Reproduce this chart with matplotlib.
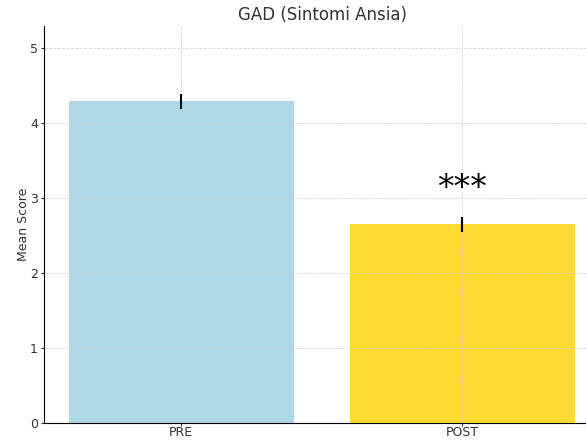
import matplotlib
matplotlib.use("Agg")
import matplotlib.pyplot as plt

categories = ["PRE", "POST"]
means = [4.29, 2.65]
errors = [0.10, 0.10]
colors = ["#ADD8E6", "#FFDA33"]
sig_label = "***"
sig_y = 2.9

fig = plt.figure(figsize=(5.86, 4.4), dpi=100)
ax = fig.add_axes([44/586, 17/440, (600 - 44)/586, (423-26)/440])
x = list(range(len(categories)))
ax.bar(x, means, width=0.8, color=colors, yerr=errors,
       error_kw=dict(ecolor="black", elinewidth=1.5, capsize=0))
ax.set_xticks(x)
ax.set_xticklabels(categories, color="#333333")
ax.set_xlim(-0.4875, 1.49)
ax.set_ylim(0, 5.29)
ax.set_yticks([0, 1, 2, 3, 4, 5])
ax.tick_params(colors="#333333", labelsize=9, length=2.5, pad=2)
ax.tick_params(axis="x", pad=0.5, length=2)
ax.set_ylabel("Mean Score", color="#333333", fontsize=9, labelpad=0)
ax.set_title("GAD (Sintomi Ansia)", color="#333333", fontsize=12, pad=4)
ax.grid(True, linestyle="--", linewidth=0.6, color="#cccccc", alpha=0.8)
for s in ["top", "right"]:
    ax.spines[s].set_visible(False)
ax.text(1, sig_y, sig_label, ha="center", va="bottom", fontsize=24)
fig.savefig("out.png", dpi=100)
